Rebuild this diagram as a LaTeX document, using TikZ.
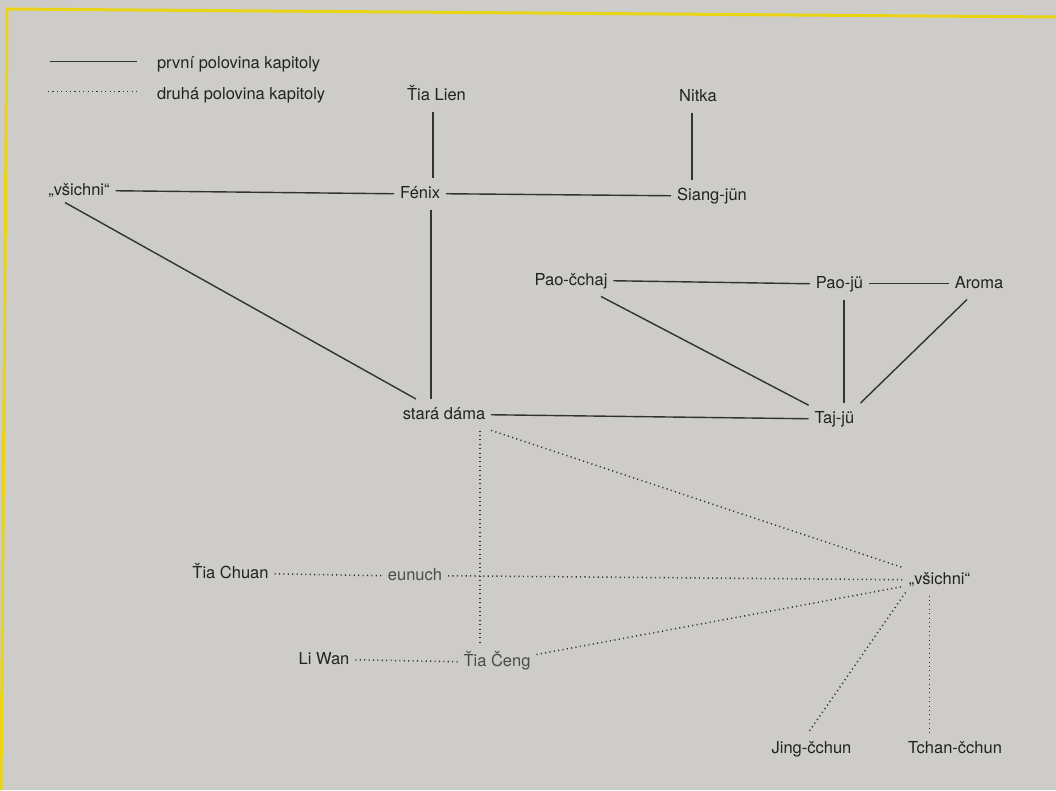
\documentclass[tikz,border=0pt]{standalone}
\usepackage{fontspec}
\setmainfont{TeX Gyre Heros}
\definecolor{paper}{RGB}{205,204,201}
\definecolor{ink}{RGB}{34,34,34}
\definecolor{fade}{RGB}{75,75,75}
\definecolor{rule}{RGB}{50,50,50}
\definecolor{frame}{RGB}{232,212,20}
\begin{document}
\begin{tikzpicture}[x=1pt,y=-1pt,
  lbl/.style={font=\fontsize{16.5}{19}\selectfont, text=ink, inner xsep=6pt, inner ysep=8pt,
              text height=12pt, text depth=3.5pt, outer sep=0pt, anchor=base},
  faded/.style={text=fade},
  first/.style={draw=rule, line width=1.4pt},
  second/.style={draw=rule, line width=1.5pt, dash pattern=on 1.1pt off 3.3pt},
]
\useasboundingbox (0,0) rectangle (1056,790);
\fill[paper] (0,0) rectangle (1056,790);
% page frame
\draw[frame, line width=3pt] (1,790) -- (7,9) -- (1056,17);

% legend
\coordinate (la) at (50,61.7);
\coordinate (lb) at (137,61.7);
\coordinate (lc) at (48,91.7);
\coordinate (ld) at (137,91.7);
\node[lbl, anchor=base west, inner xsep=0pt] (leg1) at (157,68.3) {první polovina kapitoly};
\node[lbl, anchor=base west, inner xsep=0pt] (leg2) at (157,99) {druhá polovina kapitoly};
\draw[first] (la) -- (lb);
\draw[second] (lc) -- (ld);

% characters
\node[lbl] (TiaLien) at (436.5,100) {Ťia Lien};
\node[lbl] (Nitka) at (698,101) {Nitka};
\node[lbl] (vsA) at (79,195) {„všichni“};
\node[lbl] (Fenix) at (420,198) {Fénix};
\node[lbl] (Siang) at (712,200) {Siang-jün};
\node[lbl] (Paochaj) at (571,285) {Pao-čchaj};
\node[lbl] (Paoju) at (839.5,288) {Pao-jü};
\node[lbl] (Aroma) at (979,288) {Aroma};
\node[lbl] (dama) at (444,419) {stará dáma};
\node[lbl] (Taj) at (834.5,423) {Taj-jü};
\node[lbl] (TiaChuan) at (230.5,578) {Ťia Chuan};
\node[lbl, faded] (eunuch) at (415,580) {eunuch};
\node[lbl] (vsB) at (939.5,584) {„všichni“};
\node[lbl] (LiWan) at (324,664) {Li Wan};
\node[lbl, faded] (Ceng) at (497,666) {Ťia Čeng};
\node[lbl] (Jing) at (811.5,753) {Jing-čchun};
\node[lbl] (Tchan) at (955,753) {Tchan-čchun};

% first half of the chapter
\coordinate (tl) at ([xshift=-3.5pt]TiaLien.south);
\draw[first] (tl) -- (tl |- Fenix.north);
\coordinate (nk) at ([xshift=-6pt]Nitka.south);
\draw[first] (nk) -- (nk |- Siang.north);
\draw[first] (vsA.east) -- (Fenix.west);
\draw[first] (Fenix.east) -- (Siang.west);
\draw[first] ([xshift=-14pt,yshift=4pt]vsA.south) -- (dama);
\draw[first] ([xshift=11pt]Fenix.south) -- ([xshift=-13pt]dama.north);
\draw[first] (Paochaj.east) -- (Paoju.west);
\draw[first] (Paoju.east) -- (Aroma.west);
\draw[first] (Paochaj) -- (Taj);
\coordinate (pj) at ([xshift=4.5pt]Paoju.south);
\draw[first] (pj) -- (pj |- Taj.north);
\draw[first] ([xshift=-12pt]Aroma.south) -- ([xshift=26pt]Taj.north);
\draw[first] (dama.east) -- (Taj.west);

% second half of the chapter
\coordinate (dm) at ([xshift=36pt]dama.south);
\draw[second] (dm) -- (dm |- Ceng.north);
\draw[second] (dama) -- (vsB);
\draw[second] (TiaChuan.east) -- (eunuch.west);
\draw[second] (eunuch.east) -- (vsB.west);
\draw[second] (LiWan.east) -- (Ceng.west);
\draw[second] (Ceng) -- (vsB);
\draw[second] ([xshift=-34pt,yshift=3pt]vsB.south) -- ([xshift=-3.5pt]Jing.north);
\coordinate (vb) at ([xshift=-10pt]vsB.south);
\draw[second] (vb) -- (vb |- Tchan.north);
\end{tikzpicture}
\end{document}
